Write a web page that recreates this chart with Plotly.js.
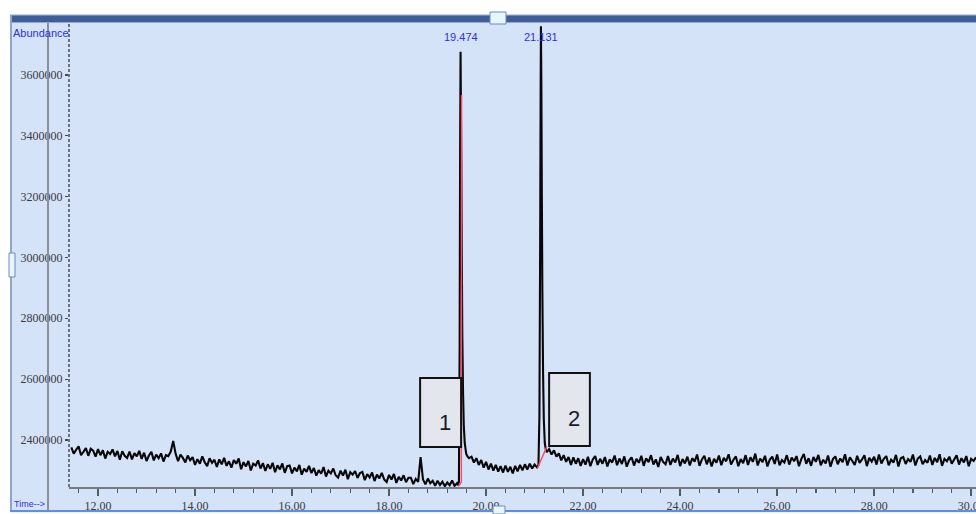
<!DOCTYPE html>
<html>
<head>
<meta charset="utf-8">
<script src="https://cdn.plot.ly/plotly-3.0.1.min.js"></script>
<style>
html,body{margin:0;padding:0;background:#ffffff;}
#chart{width:976px;height:514px;}
</style>
</head>
<body>
<div id="chart"></div>
<script>
// Scan interval of the baseline segments (minutes)
const scanStep = 0.05;

// Abundance values in thousands of counts
const baseA_start = 11.45; // 11.45 .. 19.40
const baseA = [
 2376,2355,2368,2379,2350,2361,2373,2348,2371,2365,
 2345,2370,2350,2366,2339,2361,2354,2369,2346,2364,
 2335,2363,2348,2341,2362,2336,2357,2346,2364,2338,
 2358,2331,2349,2361,2333,2352,2340,2356,2329,2350,
 2347,2362,2397,2355,2330,2352,2341,2326,2349,2333,
 2344,2318,2337,2322,2346,2327,2314,2340,2325,2335,
 2311,2336,2320,2341,2315,2330,2309,2334,2322,2339,
 2304,2327,2313,2331,2300,2322,2316,2333,2306,2324,
 2298,2320,2305,2325,2294,2317,2303,2323,2292,2314,
 2316,2290,2309,2297,2318,2286,2306,2295,2315,2291,
 2308,2283,2301,2289,2311,2280,2299,2290,2306,2284,
 2276,2299,2283,2302,2271,2294,2286,2298,2275,2291,
 2295,2268,2288,2277,2293,2265,2286,2274,2292,2270,
 2262,2285,2270,2288,2259,2279,2267,2284,2261,2276,
 2276,2255,2272,2262,2344,2270,2254,2273,2258,2266,
 2249,2266,2252,2263,2248,2260,2251,2267,2249,2258
];

const peak1_t = [19.42,19.44,19.455,19.465,19.474,19.482,19.49,19.50,19.51,19.525,19.54,19.56,19.59,19.62,19.65];
const peak1_v = [2251,2262,2700,3350,3676,3480,3300,3000,2750,2560,2450,2390,2355,2345,2340];

const baseB_start = 19.70; // 19.70 .. 21.05
const baseB = [
 2345,2326,2340,2318,2334,2309,2328,2303,2322,2299,
 2318,2296,2314,2293,2316,2295,2312,2290,2315,2297,
 2318,2300,2320,2303,2322,2306,2319,2310
];

const peak2_t = [21.08,21.10,21.115,21.125,21.131,21.14,21.15,21.16,21.175,21.19,21.21,21.23];
const peak2_v = [2318,2480,3050,3550,3760,3560,3200,2900,2620,2470,2390,2370];

const baseC_start = 21.25; // 21.25 .. 30.10
const baseC = [
 2360,2370,2352,2366,2345,2356,2333,2350,2328,2344,
 2318,2343,2322,2340,2315,2337,2319,2345,2314,2336,
 2347,2318,2338,2322,2344,2313,2336,2326,2349,2317,
 2339,2321,2346,2312,2333,2343,2316,2338,2325,2348,
 2315,2340,2327,2350,2319,2336,2311,2344,2328,2320,
 2347,2318,2339,2326,2351,2314,2337,2323,2345,2316,
 2340,2329,2352,2315,2336,2348,2320,2342,2313,2338,
 2325,2349,2317,2341,2330,2353,2319,2335,2346,2314,
 2337,2324,2350,2318,2343,2328,2355,2316,2339,2327,
 2348,2313,2336,2345,2321,2352,2317,2334,2326,2350,
 2319,2342,2330,2347,2314,2338,2354,2322,2340,2315,
 2344,2328,2351,2317,2335,2323,2349,2312,2337,2346,
 2320,2339,2327,2353,2316,2343,2331,2318,2348,2325,
 2336,2350,2314,2341,2329,2345,2319,2352,2323,2338,
 2347,2317,2335,2326,2351,2313,2340,2344,2321,2337,
 2328,2352,2316,2339,2346,2320,2334,2325,2349,2318,
 2341,2327,2353,2315,2338,2330,2345,2322,2336,2350,
 2319,2340,2326,2347,2314,2338,2331,2343
];

// Integration marks (red)
const red1_t = [19.43,19.49,19.495];
const red1_v = [2248,2262,3534];
const red2_t = [21.06,21.25];
const red2_v = [2308,2377];

// Peak retention time labels
const peakLabels = ['19.474','21.131'];
const peakTimes = [19.474,21.131];

const SCALE = 1000;

function gridTimes(start, n){
  const out = [];
  for(let i=0;i<n;i++) out.push(+(start + i*scanStep).toFixed(3));
  return out;
}

const times = [].concat(
  gridTimes(baseA_start, baseA.length), peak1_t,
  gridTimes(baseB_start, baseB.length), peak2_t,
  gridTimes(baseC_start, baseC.length)
);
const vals = [].concat(baseA, peak1_v, baseB, peak2_v, baseC).map(v => v*SCALE);

const traces = [
  {x: times, y: vals, type:'scatter', mode:'lines',
   line:{color:'#080808', width:2.1, simplify:false}, hoverinfo:'skip'},
  {x: red1_t, y: red1_v.map(v=>v*SCALE), type:'scatter', mode:'lines',
   line:{color:'#ff4a66', width:1.5}, hoverinfo:'skip'},
  {x: red2_t, y: red2_v.map(v=>v*SCALE), type:'scatter', mode:'lines',
   line:{color:'#ff4a66', width:1.5}, hoverinfo:'skip'}
];

// layout helpers (page pixels -> paper coords)
const L = 69, T = 22, W = 907, H = 465;
const px = p => (p - L)/W;
const py = p => (T + H - p)/H;

const shapes = [
  // white page edges
  {type:'rect', xref:'paper', yref:'paper', x0:px(0), x1:px(10), y0:py(514), y1:py(0), fillcolor:'#ffffff', line:{width:0}, layer:'above'},
  {type:'rect', xref:'paper', yref:'paper', x0:px(0), x1:px(976), y0:py(14.5), y1:py(0), fillcolor:'#ffffff', line:{width:0}, layer:'above'},
  {type:'rect', xref:'paper', yref:'paper', x0:px(0), x1:px(976), y0:py(514), y1:py(512.5), fillcolor:'#ffffff', line:{width:0}, layer:'above'},
  // top title bar
  {type:'rect', xref:'paper', yref:'paper', x0:px(10), x1:px(976), y0:py(22), y1:py(15), fillcolor:'#3e5d9b', line:{width:0}, layer:'above'},
  {type:'line', xref:'paper', yref:'paper', x0:px(10), x1:px(976), y0:py(15), y1:py(15), line:{color:'#a9b9d2', width:1}, layer:'above'},
  {type:'line', xref:'paper', yref:'paper', x0:px(10), x1:px(976), y0:py(22.5), y1:py(22.5), line:{color:'#97a9c8', width:1}, layer:'above'},
  // left frame lines
  {type:'line', xref:'paper', yref:'paper', x0:px(11), x1:px(11), y0:py(511), y1:py(15), line:{color:'#8fa5c5', width:2}, layer:'above'},
  {type:'line', xref:'paper', yref:'paper', x0:px(48), x1:px(48), y0:py(510), y1:py(23), line:{color:'#8b9099', width:2}, layer:'above'},
  // dashed y axis
  {type:'line', xref:'paper', yref:'paper', x0:px(69), x1:px(69), y0:py(487), y1:py(23), line:{color:'#4a4d55', width:1.5, dash:'3px,2px'}, layer:'above'},
  // bottom blue line
  {type:'line', xref:'paper', yref:'paper', x0:px(10), x1:px(976), y0:py(511), y1:py(511), line:{color:'#5d8fe4', width:2}, layer:'above'},
  // handles
  {type:'rect', xref:'paper', yref:'paper', x0:px(490), x1:px(506), y0:py(24), y1:py(12), fillcolor:'#e6f6fb', line:{color:'#6e8cbc', width:1}, layer:'above'},
  {type:'rect', xref:'paper', yref:'paper', x0:px(493), x1:px(505), y0:py(514), y1:py(506), fillcolor:'#e6f6fb', line:{color:'#6e8cbc', width:1}, layer:'above'},
  {type:'rect', xref:'paper', yref:'paper', x0:px(9), x1:px(15), y0:py(277), y1:py(253), fillcolor:'#e6f6fb', line:{color:'#6e8cbc', width:1}, layer:'above'},
  // peak number boxes
  {type:'rect', xref:'x', yref:'y', x0:18.64, x1:19.485, y0:2377000, y1:2604000, fillcolor:'#e3e6ed', line:{color:'#111111', width:2}, layer:'above'},
  {type:'rect', xref:'x', yref:'y', x0:21.30, x1:22.14, y0:2380000, y1:2620000, fillcolor:'#e3e6ed', line:{color:'#111111', width:2}, layer:'above'}
];

const blue = '#2f30de';
const annotations = [
  {xref:'paper', yref:'paper', x:px(11), y:py(33), xanchor:'left', yanchor:'middle', text:'Abundance', showarrow:false, font:{family:'Arial, Liberation Sans', size:11, color:blue}},
  {xref:'paper', yref:'paper', x:px(12), y:py(504), xanchor:'left', yanchor:'middle', text:'Time--&gt;', showarrow:false, font:{family:'Arial, Liberation Sans', size:9, color:blue}},
  {xref:'x', yref:'y', x:19.155, y:2459000, text:'1', showarrow:false, xanchor:'center', yanchor:'middle', font:{family:'Arial, Liberation Sans', size:22, color:'#1a1a28'}},
  {xref:'x', yref:'y', x:21.81, y:2472000, text:'2', showarrow:false, xanchor:'center', yanchor:'middle', font:{family:'Arial, Liberation Sans', size:22, color:'#1a1a28'}}
];
peakLabels.forEach((lab, i) => {
  annotations.push({xref:'x', yref:'paper', x:peakTimes[i], y:py(37), xanchor:'center', yanchor:'middle', text:lab, showarrow:false, font:{family:'Arial, Liberation Sans', size:11, color:blue}});
});

const layout = {
  width: 976, height: 514,
  margin: {l:L, r:0, t:T, b:27, pad:0},
  paper_bgcolor: '#d5e3f9',
  plot_bgcolor: '#d5e3f9',
  showlegend: false,
  xaxis: {
    range: [11.402, 30.10], tick0: 12, dtick: 2, tickformat: '.2f',
    ticks: 'outside', ticklen: 7, tickwidth: 1.5, tickcolor: '#555a63',
    showline: true, linecolor: '#737a86', linewidth: 2,
    showgrid: false, zeroline: false, fixedrange: true,
    ticklabeloverflow: 'allow',
    tickfont: {family: 'Liberation Serif, Times New Roman, serif', size: 12, color: '#3a3a40'},
    minor: {tick0: 12, dtick: 0.4, ticks: 'outside', ticklen: 4, tickwidth: 1.2, tickcolor: '#555a63', showgrid: false}
  },
  yaxis: {
    range: [2245400, 3774000], tick0: 2400000, dtick: 200000, tickformat: 'd',
    ticks: 'outside', ticklen: 3, tickwidth: 1.2, tickcolor: '#444850',
    showline: false, showgrid: false, zeroline: false, fixedrange: true,
    tickfont: {family: 'Liberation Serif, Times New Roman, serif', size: 12, color: '#3a3a40'}
  },
  shapes: shapes,
  annotations: annotations
};

Plotly.newPlot('chart', traces, layout, {staticPlot: true, displayModeBar: false});
</script>
</body>
</html>
